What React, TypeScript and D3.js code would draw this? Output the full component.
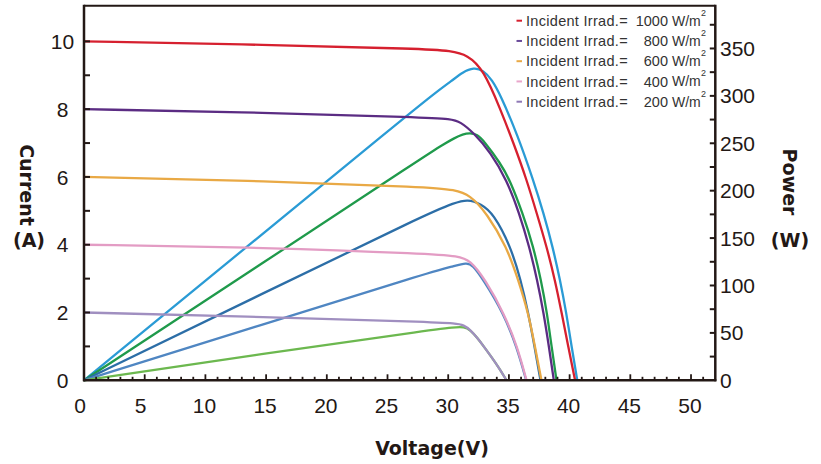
import * as d3 from 'd3';

// I-V curves, [voltage, current]
const current1000: [number, number][] = [
  [0, 10.0], [15, 9.9], [28, 9.78], [30.2, 9.72], [31.6, 9.6], [32.9, 9.17], [34.3, 8.0], [35.4, 6.98],
  [36.47, 5.91], [37.29, 4.93], [38.11, 3.94], [38.8, 2.95], [39.35, 1.98], [39.89, 0.99], [40.45, 0],
];
const current800: [number, number][] = [
  [0, 8.0], [15, 7.9], [28, 7.76], [30.2, 7.71], [31, 7.63], [32.1, 7.3], [33.5, 6.72], [34.82, 5.91],
  [35.86, 4.93], [36.68, 3.94], [37.34, 2.95], [37.86, 1.98], [38.3, 0.99], [38.7, 0],
];
const current600: [number, number][] = [
  [0, 6.0], [15, 5.88], [28.5, 5.7], [30.5, 5.62], [31.8, 5.47], [33.17, 4.93], [34.82, 3.94],
  [35.78, 2.95], [36.6, 1.98], [37.15, 0.99], [37.68, 0],
];
const current400: [number, number][] = [
  [0, 4.0], [15, 3.92], [28.5, 3.73], [30.8, 3.66], [31.8, 3.55], [33.07, 2.96], [34.6, 1.97],
  [35.7, 0.99], [36.45, 0],
];
const current200: [number, number][] = [
  [0, 2.0], [15, 1.87], [28.5, 1.72], [30.6, 1.68], [31.3, 1.63], [31.84, 1.48], [32.4, 1.25],
  [32.93, 1.0], [33.5, 0.72], [34.2, 0.36], [34.8, 0],
];

// P-V curves, [voltage, power]
const power1000: [number, number][] = [
  [0, 0], [13, 136.5], [26, 273], [29, 304], [30.3, 316], [31.2, 325], [32.1, 330], [32.9, 327],
  [33.6, 317], [34.3, 301], [35.7, 259], [37.01, 211], [37.86, 176], [38.6, 141], [39.21, 106],
  [39.73, 71], [40.17, 35], [40.63, 0],
];
const power800: [number, number][] = [
  [0, 0], [14, 117.6], [28.5, 240], [29.5, 248], [30.5, 255.5], [31.2, 259.5], [31.8, 261],
  [32.4, 259], [32.9, 253], [34.3, 229], [35.09, 211], [36.14, 176], [37.01, 141], [37.64, 106],
  [38.14, 71], [38.52, 35], [38.92, 0],
];
const power600: [number, number][] = [
  [0, 0], [14, 87], [28.5, 177], [30.5, 187], [31.6, 191], [32.7, 186], [33.72, 176], [35.15, 141],
  [35.97, 106], [36.6, 71], [37.12, 35], [37.6, 0],
];
const power400: [number, number][] = [
  [0, 0], [14, 56], [28.5, 114], [30.5, 120.5], [31.5, 124], [32.0, 122], [32.9, 106], [34.55, 71],
  [35.65, 35], [36.42, 0],
];
const power200: [number, number][] = [
  [0, 0], [14, 26.5], [28.5, 53], [30.5, 56], [31.3, 56.5], [31.84, 53], [32.4, 44.6], [32.93, 35.7],
  [33.5, 25.7], [34.2, 12.9], [34.8, 0],
];

const irradiance = ['1000', '800', '600', '400', '200'];
const currentSeries = [current1000, current800, current600, current400, current200];
const powerSeries = [power1000, power800, power600, power400, power200];
const currentColors = ['#d6202f', '#5b2c83', '#e9a945', '#e39cc4', '#a08fc0'];
const powerColors = ['#2a9bd5', '#1f9a4b', '#2c6ea7', '#4f86c2', '#6cb84f'];
const legendColors = ['#d6202f', '#6a4a9a', '#e9a945', '#e9a6cb', '#8e78b5'];

const voltageTicks = d3.range(0, 51, 5);
const currentTicks = d3.range(0, 11, 2);
const powerTicks = d3.range(0, 351, 50);

const W = 821;
const H = 464;
const M = { left: 84, right: 715.3, top: 5.8, bottom: 380.3 };
const ink = '#231815';
const tickFont = '"Liberation Sans", Arial, sans-serif';
const titleFont = '"DejaVu Sans", sans-serif';

export default function App() {
  const x = d3.scaleLinear().domain([0, 52]).range([M.left, M.right]);
  const yI = d3.scaleLinear().domain([0, 11.05]).range([M.bottom, M.top]);
  const yP = d3.scaleLinear().domain([0, 395]).range([M.bottom, M.top]);

  const lineI = d3.line<[number, number]>()
    .x(d => x(d[0]))
    .y(d => yI(d[1]))
    .curve(d3.curveBasis);
  const lineP = d3.line<[number, number]>()
    .x(d => x(d[0]))
    .y(d => yP(d[1]))
    .curve(d3.curveBasis);

  return (
    <svg width={W} height={H} style={{ position: 'absolute', left: 0, top: 0, display: 'block', background: '#fff' }}>
      {/* power curves first, current curves on top */}
      {powerSeries.map((s, i) => (
        <path key={'p' + i} d={lineP(s) || ''} fill="none" stroke={powerColors[i]} strokeWidth={2.3} />
      ))}
      {currentSeries.map((s, i) => (
        <path key={'i' + i} d={lineI(s) || ''} fill="none" stroke={currentColors[i]} strokeWidth={2.3} />
      ))}

      {/* frame */}
      <line x1={M.left} x2={M.right} y1={M.top} y2={M.top} stroke={ink} strokeWidth={2} />
      <line x1={M.left} x2={M.left} y1={M.top - 1} y2={M.bottom + 1} stroke={ink} strokeWidth={2.5} />
      <line x1={M.right} x2={M.right} y1={M.top - 1} y2={M.bottom + 1} stroke={ink} strokeWidth={2.5} />
      <line x1={M.left - 1} x2={M.right + 1} y1={M.bottom} y2={M.bottom} stroke={ink} strokeWidth={2.5} />

      {/* bottom axis ticks */}
      {d3.range(1, 52).map(v => (
        <line key={'xt' + v} x1={x(v)} x2={x(v)} y1={M.bottom} y2={M.bottom - (v % 5 === 0 ? 6 : 3.5)}
          stroke={ink} strokeWidth={1.8} />
      ))}
      {voltageTicks.map(v => (
        <text key={'xl' + v} x={x(v) - (v < 10 ? 4 : 1)} y={413} textAnchor="middle"
          fontFamily={tickFont} fontSize={21} fill={ink}>{v}</text>
      ))}

      {/* left axis */}
      {d3.range(1, 11).map(v => (
        <line key={'yt' + v} x1={M.left} x2={M.left + 6} y1={yI(v)} y2={yI(v)} stroke={ink} strokeWidth={2} />
      ))}
      {currentTicks.map(v => (
        <text key={'yl' + v} x={62.5} y={yI(v)} dy="0.36em" textAnchor="middle"
          fontFamily={tickFont} fontSize={21} fill={ink}>{v}</text>
      ))}

      {/* right axis */}
      {d3.range(25, 376, 25).map(v => (
        <line key={'pt' + v} x1={M.right} x2={M.right - 5.5} y1={yP(v)} y2={yP(v)} stroke={ink} strokeWidth={2} />
      ))}
      {powerTicks.map(v => (
        <text key={'pl' + v} x={720} y={yP(v)} dy="0.36em" textAnchor="start"
          fontFamily={tickFont} fontSize={21} fill={ink}>{v}</text>
      ))}

      {/* titles */}
      <text transform="translate(27,185) rotate(90)" textAnchor="middle" dominantBaseline="central"
        fontFamily={titleFont} fontWeight="bold" fontSize={19} fill={ink}>Current</text>
      <text x={29} y={240} textAnchor="middle" dominantBaseline="central"
        fontFamily={titleFont} fontWeight="bold" fontSize={19} fill={ink}>(A)</text>
      <text transform="translate(790,182) rotate(90)" textAnchor="middle" dominantBaseline="central"
        fontFamily={titleFont} fontWeight="bold" fontSize={19} fill={ink}>Power</text>
      <text x={790} y={240} textAnchor="middle" dominantBaseline="central"
        fontFamily={titleFont} fontWeight="bold" fontSize={19} fill={ink}>(W)</text>
      <text x={432} y={455} textAnchor="middle"
        fontFamily={titleFont} fontWeight="bold" fontSize={19} fill={ink}>Voltage(V)</text>

      {/* legend */}
      {irradiance.map((g, i) => {
        const cy = 20.7 + i * 20.25;
        return (
          <g key={'lg' + g} fontFamily={tickFont} fill="#333">
            <line x1={516.5} x2={522} y1={cy} y2={cy} stroke={legendColors[i]} strokeWidth={2} />
            <text x={526} y={cy} dy="0.36em" fontSize={14.5} letterSpacing={0.3}>Incident Irrad.=</text>
            <text x={668} y={cy} dy="0.36em" fontSize={14.5} textAnchor="end">{g}</text>
            <text x={672} y={cy} dy="0.36em" fontSize={14}>W/m</text>
            <text x={701} y={cy - 5} fontSize={9}>2</text>
          </g>
        );
      })}
    </svg>
  );
}
